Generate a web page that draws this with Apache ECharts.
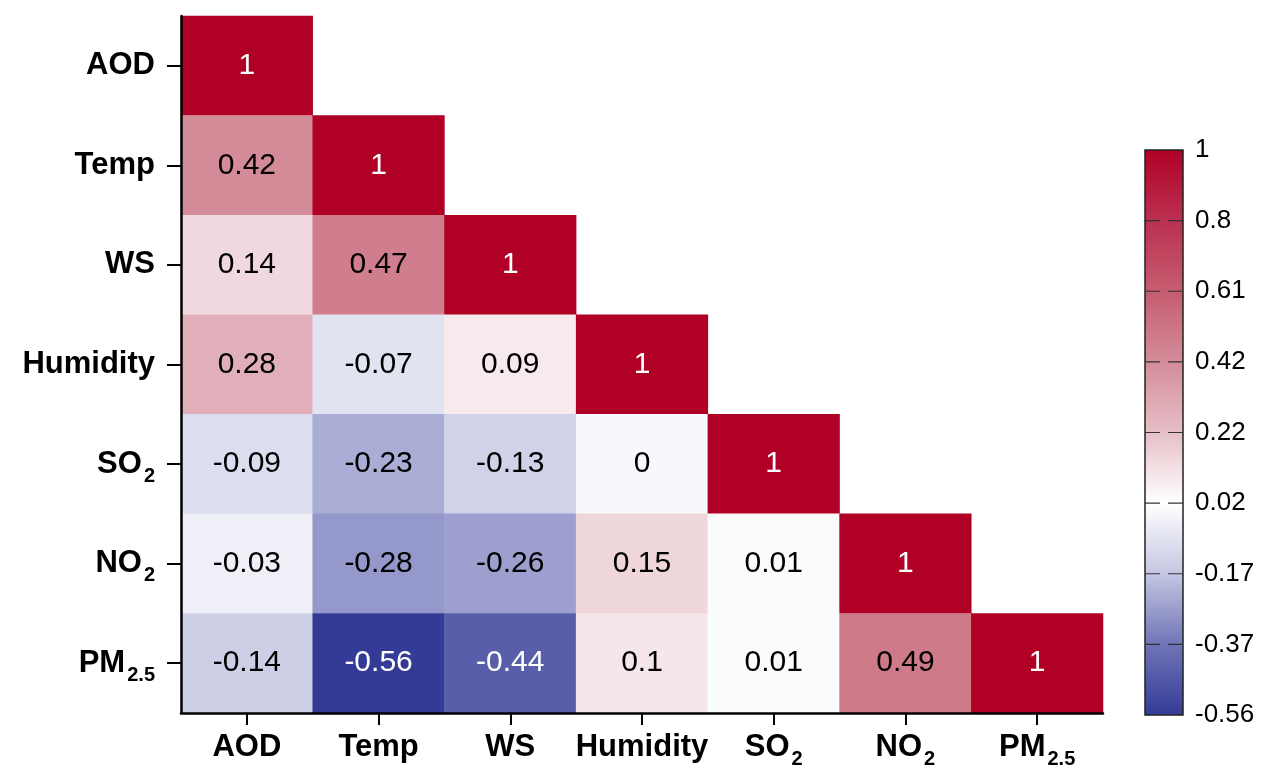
<!DOCTYPE html>
<html>
<head>
<meta charset="utf-8">
<script src="https://cdn.jsdelivr.net/npm/echarts@6/dist/echarts.min.js"></script>
<style>html,body{margin:0;padding:0;background:#fff}#c{width:1264px;height:769px}</style>
</head>
<body>
<div id="c"></div>
<script>
// Variables (main text + subscript)
const categories = ['AOD', 'Temp', 'WS', 'Humidity', 'SO2', 'NO2', 'PM2.5'];
const catMain = ['AOD', 'Temp', 'WS', 'Humidity', 'SO', 'NO', 'PM'];
const catSub = ['', '', '', '', '2', '2', '2.5'];

// Lower-triangle correlation rows (row i has values for columns 0..i)
const rowAOD = [1];
const rowTemp = [0.42, 1];
const rowWS = [0.14, 0.47, 1];
const rowHumidity = [0.28, -0.07, 0.09, 1];
const rowSO2 = [-0.09, -0.23, -0.13, 0, 1];
const rowNO2 = [-0.03, -0.28, -0.26, 0.15, 0.01, 1];
const rowPM25 = [-0.14, -0.56, -0.44, 0.1, 0.01, 0.49, 1];

// Colour bar
const cbMin = -0.56, cbMax = 1;
const cbTickLabels = ['-0.56', '-0.37', '-0.17', '0.02', '0.22', '0.42', '0.61', '0.8', '1'];
const cbColors = ['#343b96', '#6f74b7', '#c4c6e2', '#ffffff', '#e6bfc7', '#d48c99', '#c65c70', '#bb3050', '#b00026'];

const rows = [rowAOD, rowTemp, rowWS, rowHumidity, rowSO2, rowNO2, rowPM25];
const heatData = [];
rows.forEach((r, yi) => r.forEach((v, xi) => {
  const white = v >= 0.9 || v <= -0.4;
  heatData.push({ value: [xi, yi, v], label: { color: white ? '#ffffff' : '#000000' } });
}));

const FONT = '"Liberation Sans", Arial, Helvetica, sans-serif';
function catLabel(value) {
  const i = categories.indexOf(value);
  if (catSub[i]) return '{b|' + catMain[i] + '}{s|' + catSub[i] + '}';
  return '{b|' + catMain[i] + '}';
}
const richCat = {
  b: { fontSize: 31, fontWeight: 'bold', color: '#000', fontFamily: FONT, lineHeight: 44 },
  s: { fontSize: 20, fontWeight: 'bold', color: '#000', fontFamily: FONT, lineHeight: 44, verticalAlign: 'bottom', padding: [0, 0, 0, 2] }
};

const chart = echarts.init(document.getElementById('c'));
const stops = cbColors.map((c, i) => ({ offset: i / (cbColors.length - 1), color: c }));
const nCb = cbTickLabels.length - 1;

chart.setOption({
  animation: false,
  backgroundColor: '#ffffff',
  grid: [
    { left: 181, top: 16, width: 922, height: 698 },
    { left: 1145, top: 150, width: 38, height: 565 }
  ],
  xAxis: [
    {
      type: 'category', data: categories, gridIndex: 0, position: 'bottom', z: 10,
      axisLine: { show: true, lineStyle: { color: '#000', width: 2.5 } },
      axisTick: { show: true, alignWithLabel: true, length: 12, lineStyle: { color: '#000', width: 2 } },
      axisLabel: { show: true, margin: 12, formatter: catLabel, rich: richCat },
      splitLine: { show: false }
    },
    { type: 'value', gridIndex: 1, min: 0, max: 1, show: false }
  ],
  yAxis: [
    {
      type: 'category', data: categories, gridIndex: 0, inverse: true, z: 10,
      axisLine: { show: true, lineStyle: { color: '#000', width: 2.5 } },
      axisTick: { show: true, alignWithLabel: true, length: 14, lineStyle: { color: '#000', width: 2 } },
      axisLabel: { show: true, margin: 26, formatter: catLabel, rich: richCat },
      splitLine: { show: false }
    },
    {
      type: 'value', gridIndex: 1, min: 0, max: nCb, interval: 1, position: 'right',
      axisLine: { show: false },
      axisTick: { show: false },
      axisLabel: { margin: 12, fontSize: 26, color: '#000', fontFamily: FONT, formatter: v => cbTickLabels[v] },
      splitLine: { show: false }
    }
  ],
  visualMap: {
    show: false, min: cbMin, max: cbMax, seriesIndex: 0, dimension: 2,
    inRange: { color: cbColors }
  },
  series: [
    {
      type: 'heatmap', xAxisIndex: 0, yAxisIndex: 0, data: heatData,
      label: { show: true, fontSize: 30, fontFamily: FONT, formatter: p => String(p.value[2]) },
      emphasis: { disabled: true },
      itemStyle: { borderWidth: 0 }
    },
    {
      type: 'custom', xAxisIndex: 1, yAxisIndex: 1, silent: true, z: 2,
      data: [[0, 0, 1, nCb]],
      renderItem: (params, api) => {
        const p0 = api.coord([api.value(0), api.value(1)]);
        const p1 = api.coord([api.value(2), api.value(3)]);
        const children = [{
          type: 'rect',
          shape: { x: p0[0], y: p1[1], width: p1[0] - p0[0], height: p0[1] - p1[1] },
          style: { fill: new echarts.graphic.LinearGradient(0, 1, 0, 0, stops), stroke: '#222', lineWidth: 1.5 }
        }];
        for (let k = 1; k < nCb; k++) {
          const y = api.coord([0, k])[1];
          children.push({
            type: 'line',
            shape: { x1: p0[0], y1: y, x2: p1[0], y2: y },
            style: { stroke: '#333', lineWidth: 1.2, lineDash: [15, 8] }
          });
        }
        return { type: 'group', children };
      }
    }
  ]
});
</script>
</body>
</html>
